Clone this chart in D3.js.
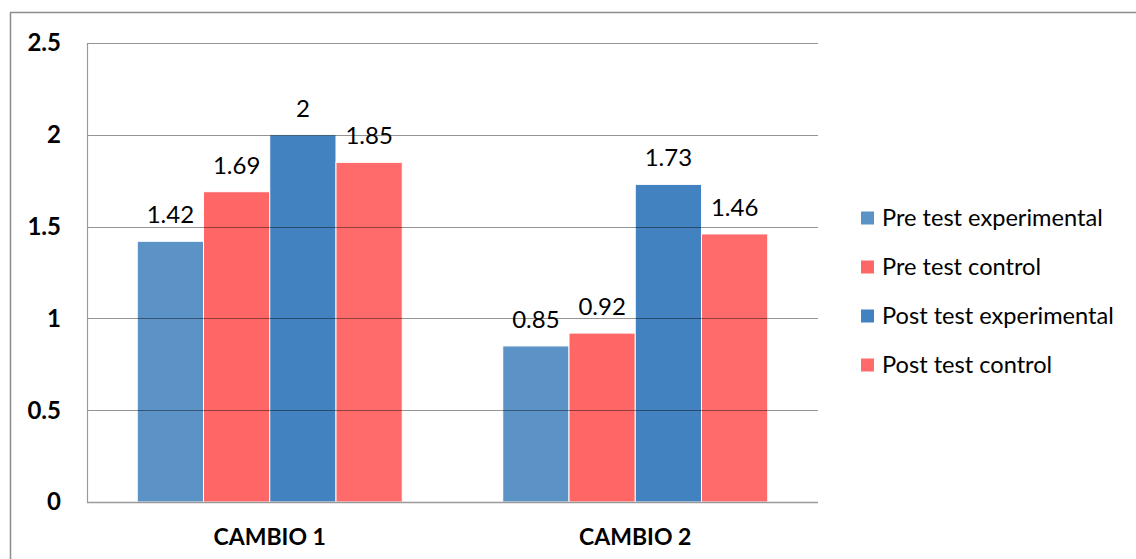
<!DOCTYPE html>
<html>
<head>
<meta charset="utf-8">
<script src="https://cdn.jsdelivr.net/npm/d3@7/dist/d3.min.js"></script>
<style>
  body { margin: 0; background: #fff; }
  svg { display: block; font-family: Lato, "Open Sans", sans-serif; }
</style>
</head>
<body>
<svg id="chart" width="1136" height="559"></svg>
<script>
const categories = ['CAMBIO 1', 'CAMBIO 2'];
const seriesNames = ['Pre test experimental', 'Pre test control', 'Post test experimental', 'Post test control'];
const seriesColors = ['#5b93c6', '#ff6666', '#4282c0', '#ff6b6b'];
const values = [
  [1.42, 1.69, 2, 1.85],
  [0.85, 0.92, 1.73, 1.46]
];
const yTicks = [0, 0.5, 1, 1.5, 2, 2.5];

const svg = d3.select('#chart');
const pLeft = 87, pRight = 818, pTop = 43, pBottom = 502;

// outer frame
svg.append('rect').attr('x', 10.5).attr('y', 12.5).attr('width', 1140).attr('height', 560)
  .attr('fill', 'none').attr('stroke', '#8c8c8c').attr('stroke-width', 1.5);

const y = d3.scaleLinear().domain([0, 2.5]).range([pBottom, pTop]);
const x0 = d3.scaleBand().domain(categories).range([pLeft, pRight]).paddingInner(0.275).paddingOuter(0.1375);
const x1 = d3.scaleBand().domain(seriesNames).range([0, x0.bandwidth()]);

// bars + value labels
const gBars = svg.append('g');
categories.forEach((c, ci) => {
  seriesNames.forEach((s, si) => {
    const v = values[ci][si];
    gBars.append('rect')
      .attr('x', x0(c) + x1(s))
      .attr('y', y(v))
      .attr('width', x1.bandwidth())
      .attr('height', y(0) - y(v))
      .attr('fill', seriesColors[si])
      .attr('stroke', '#fff').attr('stroke-width', 1);
    gBars.append('text')
      .attr('x', x0(c) + x1(s) + x1.bandwidth() / 2)
      .attr('y', y(v) - 18)
      .attr('text-anchor', 'middle')
      .attr('font-size', 24).attr('fill', '#000')
      .text(v);
  });
});

// gridlines over bars (they show through in the reference)
const gGrid = svg.append('g');
yTicks.filter(t => t > 0).forEach(t => {
  gGrid.append('line').attr('x1', pLeft).attr('x2', pRight)
    .attr('y1', Math.round(y(t)) + 0.5).attr('y2', Math.round(y(t)) + 0.5)
    .attr('stroke', 'rgba(0,0,0,0.42)').attr('stroke-width', 1);
});

// axis lines
svg.append('line').attr('x1', pLeft + 0.5).attr('x2', pLeft + 0.5).attr('y1', pTop).attr('y2', pBottom)
  .attr('stroke', '#9a9a9a').attr('stroke-width', 1.2);
svg.append('line').attr('x1', pLeft).attr('x2', pRight).attr('y1', pBottom + 0.5).attr('y2', pBottom + 0.5)
  .attr('stroke', '#9a9a9a').attr('stroke-width', 1.5);

// y tick labels
svg.append('g').selectAll('text').data(yTicks).join('text')
  .attr('x', 61).attr('y', d => y(d)).attr('dy', '0.35em')
  .attr('text-anchor', 'end').attr('font-size', 24).attr('font-weight', 700)
  .text(d => d);

// category labels
svg.append('g').selectAll('text').data(categories).join('text')
  .attr('x', d => x0(d) + x0.bandwidth() / 2).attr('y', 537).attr('dy', '0.35em')
  .attr('text-anchor', 'middle').attr('font-size', 23).attr('font-weight', 700)
  .text(d => d);

// legend
const lg = svg.append('g');
seriesNames.forEach((s, i) => {
  const ly = 218 + i * 49;
  lg.append('rect').attr('x', 861).attr('y', ly - 6.5).attr('width', 13).attr('height', 13)
    .attr('fill', seriesColors[i]);
  lg.append('text').attr('x', 882).attr('y', ly).attr('dy', '0.35em')
    .attr('font-size', 23.6).text(s);
});
</script>
</body>
</html>
